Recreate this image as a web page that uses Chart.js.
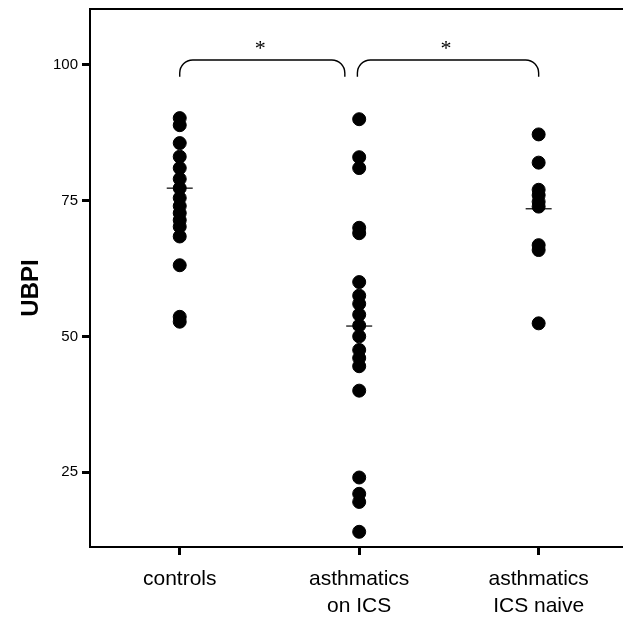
<!DOCTYPE html>
<html>
<head>
<meta charset="utf-8">
<script src="https://cdn.jsdelivr.net/npm/chart.js@4.4.0/dist/chart.umd.min.js"></script>
<style>
  html, body { margin: 0; padding: 0; background: #fff; }
  #wrap { width: 623px; height: 618px; position: relative; }
</style>
</head>
<body>
<div id="wrap"><canvas id="ubpiChart"></canvas></div>
<script>
// group labels (multi-line where the picture wraps them)
const categories = ['controls', ['asthmatics', 'on ICS'], ['asthmatics', 'ICS naive']];

// UBPI per subject
const controls = [90.2, 88.9, 85.6, 83.1, 81.0, 79.0, 77.3, 75.5, 74.0, 72.7, 71.4, 70.2, 68.4, 63.1, 53.6, 52.7];
const asthmaticsOnICS = [90, 83, 81, 70, 69, 60, 57.5, 56, 54, 52, 50, 47.5, 46, 44.5, 40, 24, 21, 19.5, 14];
const asthmaticsNaive = [87.2, 82, 77, 76, 74.8, 73.9, 66.8, 65.9, 52.4];

// horizontal median marks
const medians = [77.3, 51.9, 73.5];

const yTicks = [25, 50, 75, 100];
const yTitle = 'UBPI';

// significance brackets: group index from -> to
const comparisons = [
    { from: 1, to: 1.92, label: '*' },
    { from: 1.99, to: 3, label: '*' }
];

const groups = [controls, asthmaticsOnICS, asthmaticsNaive];

// draw top frame line, y title and the significance brackets
const frameAndBrackets = {
    id: 'frameAndBrackets',
    afterDraw(chart) {
        const { ctx, chartArea, scales } = chart;
        const x = scales.x, y = scales.y;
        ctx.save();
        ctx.strokeStyle = '#000';
        ctx.lineWidth = 2;
        ctx.beginPath();
        ctx.moveTo(chartArea.left, chartArea.top);
        ctx.lineTo(chartArea.right, chartArea.top);
        ctx.stroke();

        // axis title, sits a little below the middle of the plot
        ctx.save();
        ctx.translate(31, 288);
        ctx.rotate(-Math.PI / 2);
        ctx.fillStyle = '#000';
        ctx.font = 'bold 24px "Liberation Sans", Arial';
        ctx.textAlign = 'center';
        ctx.textBaseline = 'middle';
        ctx.fillText(yTitle, 0, 0);
        ctx.restore();

        ctx.lineWidth = 1.4;
        const yt = y.getPixelForValue(100.9);
        const yb = y.getPixelForValue(97.8);
        const r = 13;
        comparisons.forEach(c => {
            const x1 = x.getPixelForValue(c.from);
            const x2 = x.getPixelForValue(c.to);
            ctx.beginPath();
            ctx.moveTo(x1, yb);
            ctx.arcTo(x1, yt, x1 + r, yt, r);
            ctx.lineTo(x2 - r, yt);
            ctx.arcTo(x2, yt, x2, yb, r);
            ctx.lineTo(x2, yb);
            ctx.stroke();

            ctx.fillStyle = '#000';
            ctx.font = '22px "Liberation Serif"';
            ctx.textAlign = 'center';
            ctx.textBaseline = 'middle';
            ctx.fillText(c.label, (x1 + x2) / 2 - 2, y.getPixelForValue(102.9));
        });
        ctx.restore();
    }
};

const datasets = groups.map((vals, i) => ({
    label: 'group' + i,
    data: vals.map(v => ({ x: i + 1, y: v })),
    backgroundColor: '#000',
    borderColor: '#000',
    pointRadius: 6.5,
    pointHoverRadius: 6.5
}));

datasets.push({
    label: 'median',
    data: medians.map((m, i) => ({ x: i + 1, y: m })),
    pointStyle: 'line',
    pointRadius: 13,
    pointHoverRadius: 13,
    borderColor: '#000',
    borderWidth: 1.2
});

const ctx = document.getElementById('ubpiChart').getContext('2d');
const myChart = new Chart(ctx, {
    type: 'scatter',
    data: { datasets: datasets },
    plugins: [frameAndBrackets],
    options: {
        responsive: true,
        maintainAspectRatio: false,
        animation: false,
        layout: { autoPadding: false, padding: { top: 9, right: 0, left: 0, bottom: 0 } },
        plugins: {
            legend: { display: false },
            tooltip: { enabled: false }
        },
        scales: {
            x: {
                type: 'linear',
                min: 0.5,
                max: 3.47,
                afterFit: scale => {
                    scale.height = 71;
                    scale.paddingLeft = 0;
                    scale.paddingRight = 0;
                },
                afterBuildTicks: scale => {
                    scale.ticks = categories.map((c, i) => ({ value: i + 1 }));
                },
                grid: {
                    drawOnChartArea: false,
                    drawTicks: true,
                    tickLength: 8,
                    tickWidth: 3,
                    tickColor: '#000'
                },
                border: { display: true, color: '#000', width: 2 },
                ticks: {
                    color: '#000',
                    padding: 11,
                    maxRotation: 0,
                    autoSkip: false,
                    font: { family: '"Liberation Sans", Arial', size: 21, lineHeight: 1.27 },
                    callback: value => categories[value - 1]
                }
            },
            y: {
                min: 11.2,
                max: 110.3,
                afterFit: scale => {
                    scale.width = 90;
                    scale.paddingTop = 0;
                    scale.paddingBottom = 0;
                },
                afterBuildTicks: scale => {
                    scale.ticks = yTicks.map(v => ({ value: v }));
                },
                grid: {
                    drawOnChartArea: false,
                    drawTicks: true,
                    tickLength: 8,
                    tickWidth: 3,
                    tickColor: '#000'
                },
                border: { display: true, color: '#000', width: 2 },
                ticks: {
                    color: '#000',
                    padding: 4,
                    font: { family: '"Liberation Sans", Arial', size: 15 }
                },
                title: { display: false }
            }
        }
    }
});
</script>
</body>
</html>
